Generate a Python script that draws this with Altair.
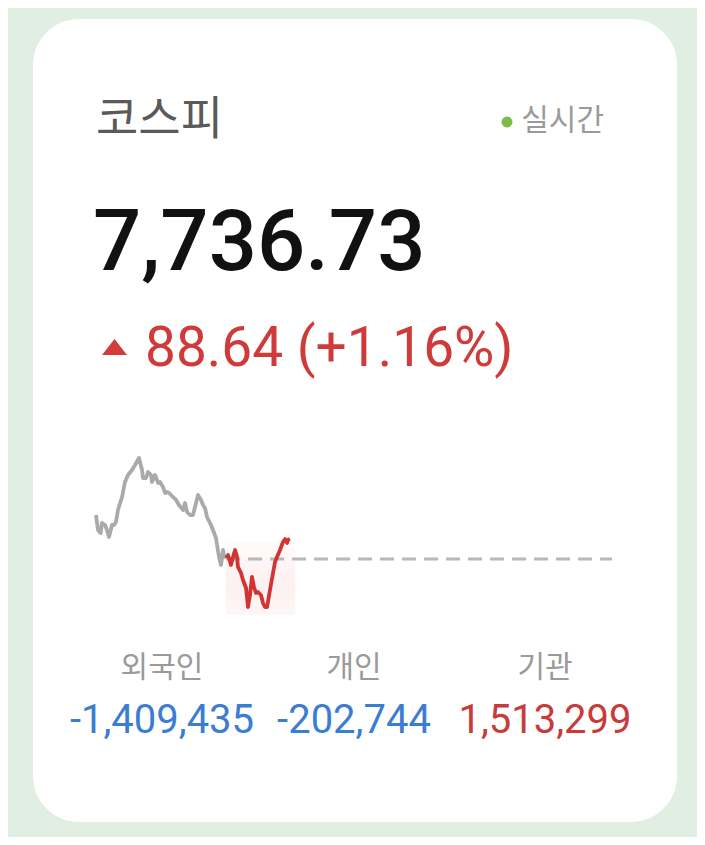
import altair as alt
import pandas as pd

# ---------------- data ----------------
title_text = "코스피"
live_text = "실시간"
price_text = "7,736.73"
change_text = "88.64 (+1.16%)"
prev_close = 7648.09

investor_labels = ["외국인", "개인", "기관"]
investor_values = ["-1,409,435", "-202,744", "1,513,299"]
investor_colors = ["#3b7dd2", "#3b7dd2", "#c93a3a"]

# minutes since market open (09:00) and index value
gray_minutes = [0, 1.5, 3.5, 4.5, 6.8, 8.3, 9.8, 12.1, 13.6, 15.1, 16.6, 19.7, 21.9, 24.2,
                27.2, 29.5, 32.5, 34.8, 35.5, 37.8, 39.3, 41.6, 42.3, 44.6, 46.1, 46.9,
                48.4, 50.6, 52.2, 53.7, 55.2, 58.2, 60.5, 62.7, 65.8, 67.3, 68.8, 71.1,
                73.3, 75.6, 77.1, 79.4, 80.9, 82.4, 83.9, 86.9, 88.4, 90.7, 91.5, 93.0,
                94.5, 96.0, 96.7, 98.3]
gray_values = [7843.0, 7776.6, 7763.3, 7807.6, 7798.7, 7776.6, 7745.5, 7798.7, 7798.7,
               7812.0, 7865.2, 7922.7, 7989.2, 8020.2, 8042.4, 8064.5, 8095.5, 8042.4,
               8006.9, 8006.9, 8033.5, 8020.2, 7989.2, 8020.2, 7998.1, 7984.8, 7989.2,
               7967.1, 7940.5, 7944.9, 7940.5, 7922.7, 7909.5, 7887.3, 7865.2, 7896.2,
               7856.3, 7843.0, 7843.0, 7896.2, 7931.6, 7909.5, 7887.3, 7874.0, 7834.2,
               7798.7, 7776.6, 7741.1, 7710.1, 7657.0, 7621.5, 7688.0, 7665.8, 7652.5]
red_minutes = [98.3, 99.8, 102.0, 103.6, 105.1, 106.6, 107.3, 109.6, 111.1, 113.4, 114.9,
               116.4, 117.9, 119.4, 120.9, 122.4, 124.7, 126.2, 127.7, 129.3, 131.5, 133.8,
               135.3, 136.8, 139.1, 141.3, 142.9, 144.4, 145.1, 146.6]
red_values = [7652.5, 7665.8, 7621.5, 7657.0, 7688.0, 7657.0, 7612.7, 7586.1, 7555.1,
              7519.6, 7435.5, 7488.6, 7568.4, 7524.1, 7497.5, 7501.9, 7488.6, 7453.2,
              7435.5, 7435.5, 7510.8, 7586.1, 7634.8, 7657.0, 7688.0, 7723.4, 7736.7,
              7719.0, 7732.3, 7736.73]
session_minutes = 390

# ---------------- tables ----------------
gray_df = pd.DataFrame({"m": gray_minutes, "v": gray_values})
red_df = pd.DataFrame({"m": red_minutes, "v": red_values})
base_df = pd.DataFrame({"m": [red_minutes[0]], "m2": [session_minutes], "v": [prev_close]})
shade_df = pd.DataFrame({"m": [red_minutes[0]], "m2": [red_minutes[-1] + 4],
                         "v": [7722.0], "v2": [7400.0]})
inv_df = pd.DataFrame({"label": investor_labels, "value": investor_values,
                       "color": investor_colors, "cx": [154, 346, 537]})
one = pd.DataFrame({"a": [0]})

KR = "Noto Sans CJK KR"
NUM = "Roboto"

xs = alt.Scale(domain=[0, session_minutes], range=[88, 604], nice=False, zero=False)
ys = alt.Scale(domain=[7400, 8200], range=[607.0, 426.4], nice=False, zero=False)
X = alt.X("m:Q", scale=xs, axis=None)
Y = alt.Y("v:Q", scale=ys, axis=None)

card = alt.Chart(one).mark_rect(color="#ffffff", cornerRadius=46).encode(
    x=alt.value(25), x2=alt.value(669), y=alt.value(11), y2=alt.value(814))

title = alt.Chart(one).mark_text(text=title_text, font=KR, fontSize=46, color="#5a5a5a",
                                 align="left", baseline="middle").encode(
    x=alt.value(88), y=alt.value(112))
live = alt.Chart(one).mark_text(text=live_text, font=KR, fontSize=30, color="#9a9a9a",
                                align="right", baseline="middle").encode(
    x=alt.value(596), y=alt.value(113))
dot = alt.Chart(one).mark_point(shape="circle", filled=True, size=120, color="#7cbb45",
                                opacity=1).encode(x=alt.value(499), y=alt.value(114))
price = alt.Chart(one).mark_text(text=price_text, font=NUM, fontSize=85, fontWeight=500,
                                 color="#111111", align="left", baseline="alphabetic").encode(
    x=alt.value(85), y=alt.value(262))
tri = alt.Chart(one).mark_point(shape="M-1,0.64L1,0.64L0,-0.64Z", filled=True, size=625,
                                color="#d43b3b", opacity=1).encode(
    x=alt.value(106.5), y=alt.value(339))
change = alt.Chart(one).mark_text(text=change_text, font=NUM, fontSize=55, color="#cf3b3b",
                                  align="left", baseline="alphabetic").encode(
    x=alt.value(137), y=alt.value(358))

shade = alt.Chart(shade_df).mark_rect(
    fill=alt.Gradient(gradient="linear", x1=0, x2=0, y1=0, y2=1,
                      stops=[alt.GradientStop(color="#fffbfb", offset=0),
                             alt.GradientStop(color="#fdf0f0", offset=0.6),
                             alt.GradientStop(color="#fef7f7", offset=1)])).encode(
    x=X, x2="m2:Q", y=alt.Y("v:Q", scale=ys, axis=None), y2="v2:Q")
base = alt.Chart(base_df).mark_rule(color="#b8b8b8", strokeWidth=3.2,
                                    strokeDash=[14, 8]).encode(x=X, x2="m2:Q", y=Y)
gray_line = alt.Chart(gray_df).mark_line(color="#aaaaaa", strokeWidth=3.8,
                                         strokeJoin="round").encode(x=X, y=Y)
red_line = alt.Chart(red_df).mark_line(color="#d23434", strokeWidth=3.8,
                                       strokeJoin="round").encode(x=X, y=Y)

inv_label = alt.Chart(inv_df).mark_text(font=KR, fontSize=30, color="#9a9a9a",
                                        align="center", baseline="middle").encode(
    x=alt.X("cx:Q", scale=None), y=alt.value(660), text="label:N")
inv_value = alt.Chart(inv_df).mark_text(font=NUM, fontSize=40, align="center",
                                        baseline="alphabetic").encode(
    x=alt.X("cx:Q", scale=None), y=alt.value(725), text="value:N",
    color=alt.Color("color:N", scale=None, legend=None))

chart = alt.layer(card, title, live, dot, price, tri, change, shade, base, gray_line,
                  red_line, inv_label, inv_value).properties(
    width=689, height=829, padding=0, autosize="none", background="#e1efe2"
).configure_view(stroke=None)

chart.save("out.html", embed_options={"renderer": "svg", "actions": False})
